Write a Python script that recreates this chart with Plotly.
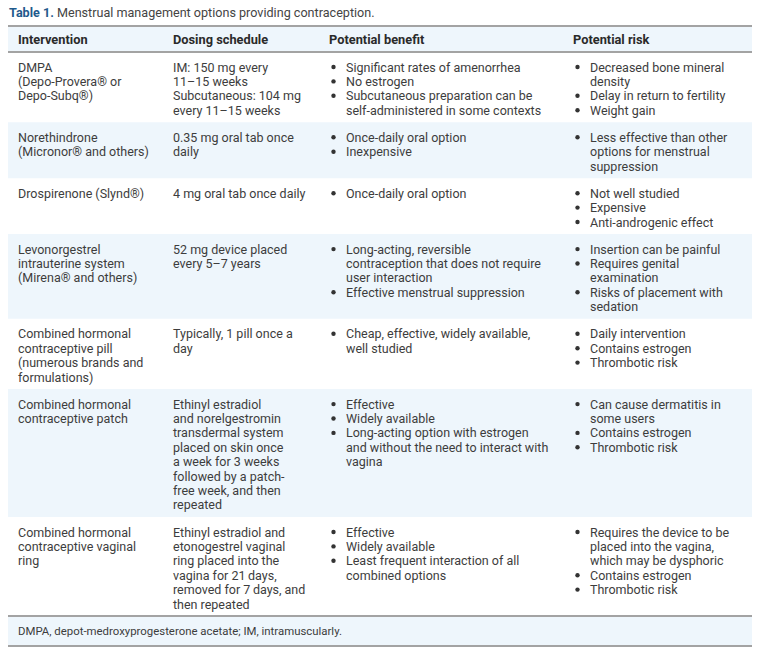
import plotly.graph_objects as go

# ---------------- data ----------------
title_label = "Table 1."
title_text = "Menstrual management options providing contraception."
headers = ["Intervention", "Dosing schedule", "Potential benefit", "Potential risk"]
footnote = "DMPA, depot-medroxyprogesterone acetate; IM, intramuscularly."

interventions = [
    ["DMPA", "(Depo-Provera® or", "Depo-Subq®)"],
    ["Norethindrone", "(Micronor® and others)"],
    ["Drospirenone (Slynd®)"],
    ["Levonorgestrel", "intrauterine system", "(Mirena® and others)"],
    ["Combined hormonal", "contraceptive pill", "(numerous brands and", "formulations)"],
    ["Combined hormonal", "contraceptive patch"],
    ["Combined hormonal", "contraceptive vaginal", "ring"],
]
dosing = [
    ["IM: 150 mg every", "11–15 weeks", "Subcutaneous: 104 mg", "every 11–15 weeks"],
    ["0.35 mg oral tab once", "daily"],
    ["4 mg oral tab once daily"],
    ["52 mg device placed", "every 5–7 years"],
    ["Typically, 1 pill once a", "day"],
    ["Ethinyl estradiol", "and norelgestromin", "transdermal system", "placed on skin once",
     "a week for 3 weeks", "followed by a patch-", "free week, and then", "repeated"],
    ["Ethinyl estradiol and", "etonogestrel vaginal", "ring placed into the",
     "vagina for 21\u2009days,", "removed for 7\u2009days, and", "then repeated"],
]
benefits = [
    [["Significant rates of amenorrhea"], ["No estrogen"],
     ["Subcutaneous preparation can be", "self-administered in some contexts"]],
    [["Once-daily oral option"], ["Inexpensive"]],
    [["Once-daily oral option"]],
    [["Long-acting, reversible", "contraception that does not require", "user interaction"],
     ["Effective menstrual suppression"]],
    [["Cheap, effective, widely available,", "well studied"]],
    [["Effective"], ["Widely available"],
     ["Long-acting option with estrogen", "and without the need to interact with", "vagina"]],
    [["Effective"], ["Widely available"],
     ["Least frequent interaction of all", "combined options"]],
]
risks = [
    [["Decreased bone mineral", "density"], ["Delay in return to fertility"], ["Weight gain"]],
    [["Less effective than other", "options for menstrual", "suppression"]],
    [["Not well studied"], ["Expensive"], ["Anti-androgenic effect"]],
    [["Insertion can be painful"], ["Requires genital", "examination"],
     ["Risks of placement with", "sedation"]],
    [["Daily intervention"], ["Contains estrogen"], ["Thrombotic risk"]],
    [["Can cause dermatitis in", "some users"], ["Contains estrogen"], ["Thrombotic risk"]],
    [["Requires the device to be", "placed into the vagina,", "which may be dysphoric"],
     ["Contains estrogen"], ["Thrombotic risk"]],
]

# ---------------- style / layout constants ----------------
W, H = 761, 655
FONT = "Roboto"
FS = 12.5
TXT = "#3d3d3d"
HEAD = "#2a2a2a"
BLUE_BG = "#eef6fc"
RULE = "#a3a3a3"
TITLE_BLUE = "#1f5a8c"

LEFT, RIGHT = 8, 752
COL_X = [17, 172, 328, 572]   # header / text x per column
BULLET_DX = 5.5
BULLET_TEXT_DX = 17
LH = 14.4
PAD = 12.7
TOP_OFF = 15.0

TITLE_Y = 12.5
TABLE_TOP = 26
HEADER_H = 26
FOOT_H = 30

annotations = []
shapes = []
bullet_x, bullet_y = [], []


def txt(x, y, s, bold=False, color=TXT, size=FS):
    annotations.append(dict(
        x=x, y=y, xref="x", yref="y", text=f"<b>{s}</b>" if bold else s,
        showarrow=False, xanchor="left", yanchor="middle",
        font=dict(family=FONT, size=size, color=color), borderpad=0))


def rect(y0, y1, color):
    shapes.append(dict(type="rect", xref="x", yref="y", x0=LEFT, x1=RIGHT, y0=y0, y1=y1,
                       fillcolor=color, line=dict(width=0), layer="below"))


def rule(y):
    shapes.append(dict(type="line", xref="x", yref="y", x0=LEFT, x1=RIGHT, y0=y, y1=y,
                       line=dict(color=RULE, width=2), layer="above"))


# title
txt(LEFT, TITLE_Y,
    f"<b><span style='color:{TITLE_BLUE}'>{title_label}</span></b> "
    f"<span style='color:#444'>{title_text}</span>", size=12.6)

# header
rect(TABLE_TOP, TABLE_TOP + HEADER_H, BLUE_BG)
for cx, h in zip(COL_X, headers):
    txt(cx, TABLE_TOP + HEADER_H / 2, h, bold=True, color=HEAD, size=12.8)
rule(TABLE_TOP)
rule(TABLE_TOP + HEADER_H)

# body rows
y = TABLE_TOP + HEADER_H
for i in range(len(interventions)):
    n1 = len(interventions[i])
    n2 = len(dosing[i])
    n3 = sum(len(b) for b in benefits[i])
    n4 = sum(len(b) for b in risks[i])
    n = max(n1, n2, n3, n4)
    h = n * LH + PAD
    if i % 2 == 1:
        rect(y, y + h, BLUE_BG)
    first = y + TOP_OFF
    for k, line in enumerate(interventions[i]):
        txt(COL_X[0], first + k * LH, line)
    for k, line in enumerate(dosing[i]):
        txt(COL_X[1], first + k * LH, line)
    for col, items in ((2, benefits[i]), (3, risks[i])):
        k = 0
        for item in items:
            bullet_x.append(COL_X[col] + BULLET_DX)
            bullet_y.append(first + k * LH)
            for line in item:
                txt(COL_X[col] + BULLET_TEXT_DX, first + k * LH, line)
                k += 1
    y += h

# footer
rule(y)
rect(y, y + FOOT_H, BLUE_BG)
txt(COL_X[0], y + FOOT_H / 2, footnote, size=11.4)
rule(y + FOOT_H)

fig = go.Figure()
fig.add_trace(go.Scatter(x=bullet_x, y=bullet_y, mode="markers",
                         marker=dict(symbol="circle", size=4.4, color="#333",
                                     line=dict(width=0)),
                         hoverinfo="skip", showlegend=False, cliponaxis=False))
fig.update_layout(
    width=W, height=H, margin=dict(l=0, r=0, t=0, b=0),
    paper_bgcolor="white", plot_bgcolor="white",
    xaxis=dict(range=[0, W], visible=False, fixedrange=True),
    yaxis=dict(range=[H, 0], visible=False, fixedrange=True),
    annotations=annotations, shapes=shapes, showlegend=False,
)
fig.write_html("out.html", config={"displayModeBar": False, "staticPlot": True},
               post_script="document.body.style.margin='0';")
